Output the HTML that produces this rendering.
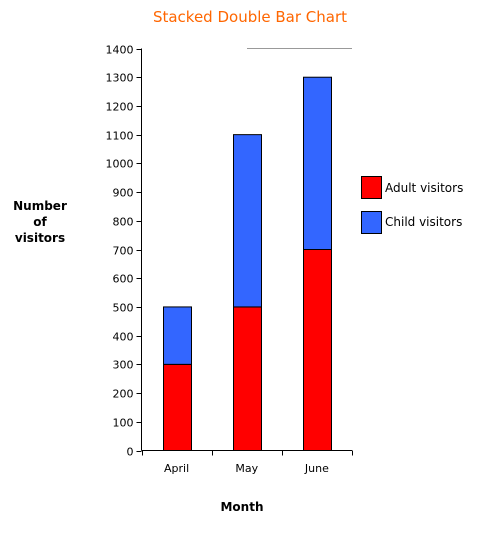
<!DOCTYPE html>
<html><head><meta charset="utf-8"><style>
body{margin:0;background:#fff;font-family:Verdana,"DejaVu Sans","Liberation Sans",sans-serif;}
</style></head><body>
<svg width="481" height="531" xmlns="http://www.w3.org/2000/svg" font-family="Verdana,'DejaVu Sans',sans-serif">
<text x="250" y="22" text-anchor="middle" font-size="15" fill="#ff6600">Stacked Double Bar Chart</text>
<line x1="247" y1="48.5" x2="352" y2="48.5" stroke="#999"/>
<g id="yaxis"></g>
<g id="xaxis"></g>
<g id="bars"></g>
<text x="40" y="210" text-anchor="middle" font-size="12" font-weight="bold"><tspan x="40">Number</tspan><tspan x="40" dy="16">of</tspan><tspan x="40" dy="16">visitors</tspan></text>
<text x="242" y="511" text-anchor="middle" font-size="12" font-weight="bold">Month</text>
<g>
<rect x="361.5" y="176.5" width="20" height="22" fill="#ff0000" stroke="#000"/>
<text x="385" y="192" font-size="12">Adult visitors</text>
<rect x="361.5" y="211.5" width="20" height="22" fill="#3366ff" stroke="#000"/>
<text x="385" y="226" font-size="12">Child visitors</text>
</g>
</svg>
<script>
const categories=["April","May","June"];
const adult=[300,500,700];
const child=[200,600,600];
const yTicks=[0,100,200,300,400,500,600,700,800,900,1000,1100,1200,1300,1400];
const NS="http://www.w3.org/2000/svg";
const x0=141.5,x1=352,yB=450.5,yT=48.5,yMax=1400;
const cw=(x1-x0)/categories.length;
function y(v){return yB-(v/yMax)*(yB-yT);}
function mk(t,a,p){const e=document.createElementNS(NS,t);for(const k in a)e.setAttribute(k,a[k]);p.appendChild(e);return e;}
const ya=document.getElementById('yaxis'),xa=document.getElementById('xaxis'),bg=document.getElementById('bars');
let l=mk('line',{x1:x0,y1:yT,x2:x0,y2:yB,stroke:'#000'},ya);


yTicks.forEach(v=>{
 const yy=Math.round(y(v))+0.5;
 const t=mk('line',{x1:x0-5,y1:yy,x2:x0,y2:yy,stroke:'#000'},ya);
 
 
 const tx=mk('text',{x:x0-8,y:yy+4,'text-anchor':'end','font-size':'11'},ya);
 tx.textContent=v;
 
 
});
l=mk('line',{x1:x0,y1:yB,x2:x1,y2:yB,stroke:'#000'},xa);


for(let i=0;i<=categories.length;i++){
 const xx=Math.round(x0+i*cw)+0.5;
 const t=mk('line',{x1:xx,y1:yB,x2:xx,y2:yB+5,stroke:'#000'},xa);
 
 
}
categories.forEach((c,i)=>{
 const cx=x0+i*cw+cw/2;
 const tx=mk('text',{x:cx,y:472,'text-anchor':'middle','font-size':'11'},xa);
 tx.textContent=c;
 
 
 const bx=Math.round(x0+i*cw+21)+0.5,bw=28;
 const r1=mk('rect',{x:bx,y:y(adult[i]),width:bw,height:yB-y(adult[i]),fill:'#ff0000',stroke:'#000'},bg);
 
 
 const top=adult[i]+child[i];
 const r2=mk('rect',{x:bx,y:y(top),width:bw,height:y(adult[i])-y(top),fill:'#3366ff',stroke:'#000'},bg);
 
 
});
</script>
</body></html>
